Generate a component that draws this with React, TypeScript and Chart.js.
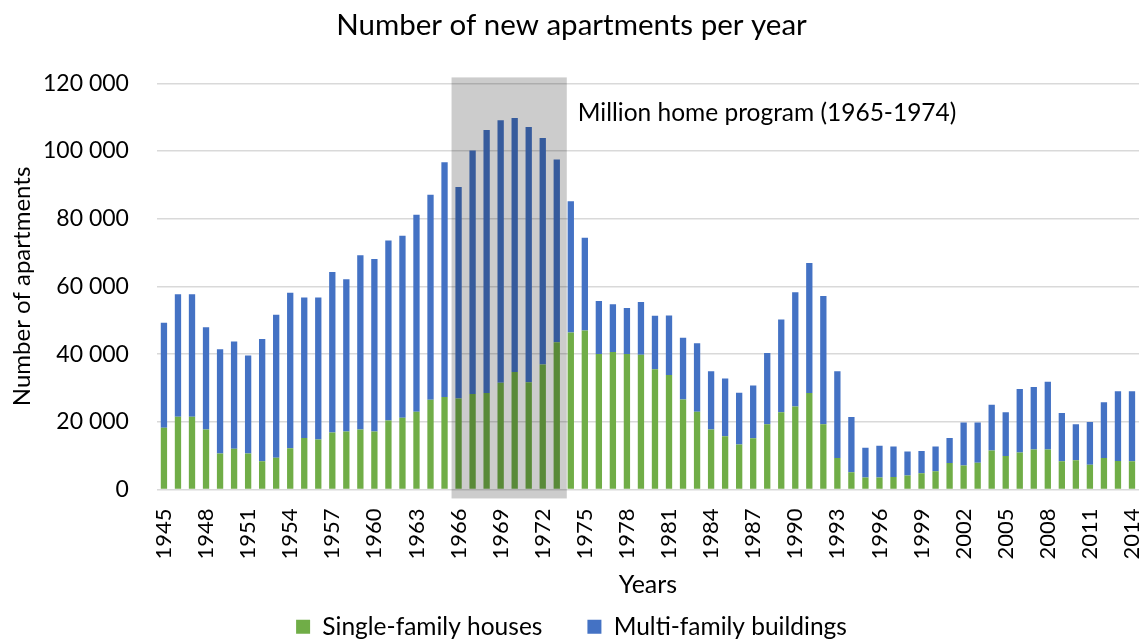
import React, { useEffect, useRef } from "react";
import { Chart, registerables } from "chart.js";

Chart.register(...registerables);

const years: string[] = [
  "1945","1946","1947","1948","1949","1950","1951","1952","1953","1954",
  "1955","1956","1957","1958","1959","1960","1961","1962","1963","1964",
  "1965","1966","1967","1968","1969","1970","1971","1972","1973","1974",
  "1975","1976","1977","1978","1979","1980","1981","1982","1983","1984",
  "1985","1986","1987","1988","1989","1990","1991","1992","1993","1994",
  "1995","1996","1997","1998","1999","2000","2001","2002","2003","2004",
  "2005","2006","2007","2008","2009","2010","2011","2012","2013","2014",
];

const singleFamily: number[] = [
  18200, 21500, 21500, 17700, 10600, 12000, 10600, 8300, 9400, 12200,
  15200, 14800, 16800, 17100, 17700, 17100, 20400, 21200, 23000, 26500,
  27300, 26900, 28200, 28500, 31500, 34700, 31700, 36900, 43500, 46400,
  47000, 40000, 40600, 40000, 39800, 35500, 33800, 26600, 23000, 17700,
  15700, 13300, 15100, 19300, 22800, 24500, 28500, 19300, 9300, 5100,
  3500, 3500, 3700, 4100, 4800, 5400, 7800, 7100, 7900, 11500,
  9900, 10900, 11800, 11800, 8300, 8600, 7300, 9300, 8400, 8300,
];

const multiFamily: number[] = [
  31100, 36200, 36200, 30200, 30800, 31700, 29000, 36200, 42200, 45900,
  41500, 41900, 47500, 45000, 51500, 51000, 53200, 53800, 58200, 60600,
  69400, 62500, 72000, 77700, 77600, 75100, 75400, 67000, 54000, 38800,
  27400, 15700, 14100, 13600, 15600, 15800, 17600, 18200, 20200, 17200,
  17100, 15300, 15600, 21000, 27400, 33800, 38400, 37900, 25600, 16300,
  8800, 9400, 9000, 7100, 6600, 7300, 7400, 12700, 11900, 13500,
  12900, 18800, 18500, 20000, 14300, 10700, 12600, 16500, 20600, 20700,
];

const shownTickYears: string[] = [
  "1945","1948","1951","1954","1957","1960","1963","1966","1969","1972",
  "1975","1978","1981","1984","1987","1990","1993","1996","1999","2002",
  "2005","2008","2011","2014",
];

const programStart = "1966";
const programEnd = "1973";
const programLabel = "Million home program (1965-1974)";

const FONT = "Lato, 'Open Sans', sans-serif";

const bandPlugin = {
  id: "bandPlugin",
  afterDatasetsDraw(chart: any) {
    const { ctx, chartArea, scales } = chart;
    const x = scales.x;
    const i0 = years.indexOf(programStart);
    const i1 = years.indexOf(programEnd);
    const step = x.getPixelForValue(1) - x.getPixelForValue(0);
    const left = x.getPixelForValue(i0) - step / 2;
    const right = x.getPixelForValue(i1) + step / 2 + 3;
    ctx.save();
    ctx.fillStyle = "rgba(0,0,0,0.2)";
    ctx.fillRect(left, chartArea.top - 6, right - left, chartArea.bottom - chartArea.top + 15);
    ctx.fillStyle = "#000";
    ctx.font = `24.5px ${FONT}`;
    ctx.textBaseline = "alphabetic";
    ctx.textAlign = "left";
    ctx.fillText(programLabel, right + 11, chartArea.top + 38);
    ctx.restore();
  },
};

export default function App() {
  const ref = useRef<HTMLCanvasElement | null>(null);
  useEffect(() => {
    document.body.style.margin = "0";
    const canvas = ref.current;
    if (!canvas) return;
    const chart = new Chart(canvas, {
      type: "bar",
      data: {
        labels: years,
        datasets: [
          {
            label: "Single-family houses",
            data: singleFamily,
            backgroundColor: "#70AD47",
            categoryPercentage: 1,
            barPercentage: 0.45,
          },
          {
            label: "Multi-family buildings",
            data: multiFamily,
            backgroundColor: "#4472C4",
            categoryPercentage: 1,
            barPercentage: 0.45,
          },
        ],
      },
      options: {
        animation: false,
        responsive: false,
        maintainAspectRatio: false,
        layout: { padding: { top: 8, right: 5, left: 4, bottom: -7 } },
        scales: {
          x: {
            stacked: true,
            grid: { display: false, drawTicks: false },
            border: { display: false },
            afterFit: (scale: any) => {
              scale.paddingLeft = 0;
              scale.paddingRight = 0;
            },
            ticks: {
              autoSkip: false,
              minRotation: 90,
              maxRotation: 90,
              padding: 19,
              color: "#000",
              font: { family: FONT, size: 22 },
              callback: function (this: any, value: any) {
                const lbl = years[value as number];
                return shownTickYears.includes(lbl) ? lbl : "";
              },
            },
            title: {
              display: true,
              text: "Years",
              color: "#000",
              font: { family: FONT, size: 25, lineHeight: 1 },
              padding: { top: -6, bottom: -28 },
            },
          },
          y: {
            stacked: true,
            min: 0,
            max: 120000,
            grid: { color: "#d9d9d9", lineWidth: 1.5, drawTicks: false },
            border: { display: false },
            ticks: {
              stepSize: 20000,
              padding: 28,
              color: "#000",
              font: { family: FONT, size: 23 },
              callback: (v: any) => String(v).replace(/\B(?=(\d{3})+(?!\d))/g, " "),
            },
            title: {
              display: true,
              text: "Number of apartments",
              color: "#000",
              font: { family: FONT, size: 24, lineHeight: 1 },
              padding: { top: 6, bottom: -19 },
            },
          },
        },
        plugins: {
          title: {
            display: true,
            text: "Number of new apartments per year",
            color: "#000",
            font: { family: FONT, size: 29.5, weight: "normal" },
            padding: { top: 0, bottom: 40 },
          },
          legend: {
            position: "bottom",
            labels: {
              color: "#000",
              font: { family: FONT, size: 24.5 },
              boxWidth: 14,
              boxHeight: 14,
              padding: 45,
            },
          },
          tooltip: { enabled: false },
        },
      },
      plugins: [bandPlugin],
    });
    return () => chart.destroy();
  }, []);
  return (
    <div style={{ width: 1144, height: 642, overflow: "hidden" }}>
      <canvas ref={ref} width={1144} height={642} style={{ display: "block" }} />
    </div>
  );
}
